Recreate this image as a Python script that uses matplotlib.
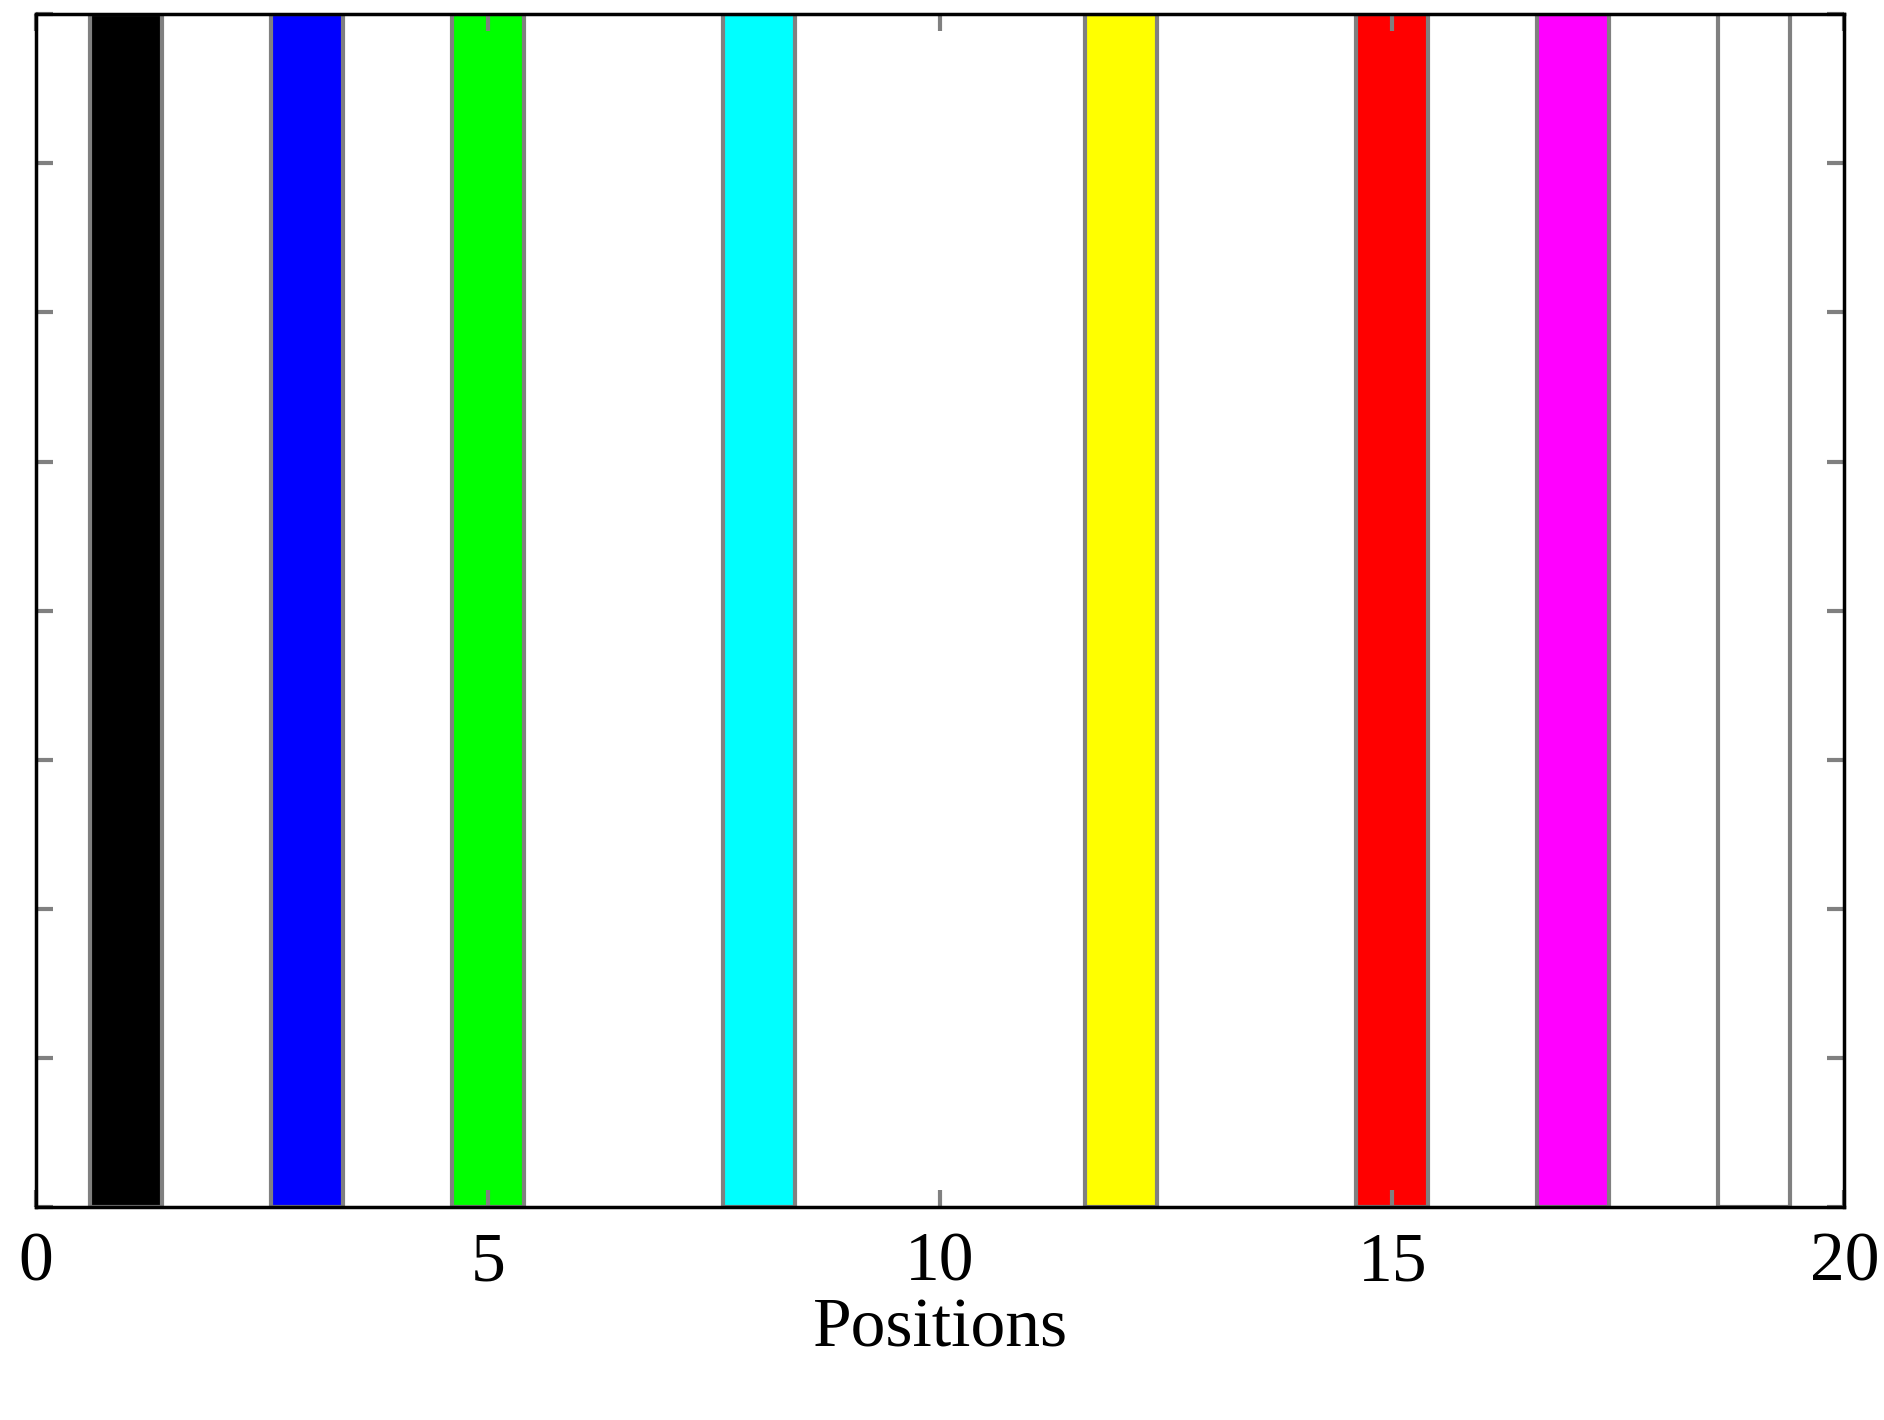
import matplotlib
matplotlib.use("Agg")
import matplotlib.pyplot as plt

positions = [1, 3, 5, 8, 12, 15, 17, 19]
heights = [8, 8, 8, 8, 8, 8, 8, 8]
colors = ["#000000", "#0000ff", "#00ff00", "#00ffff", "#ffff00", "#ff0000", "#ff00ff", "#ffffff"]

plt.rcParams["font.family"] = ["Liberation Serif", "DejaVu Serif"]

fig = plt.figure(figsize=(18.84, 14.2), dpi=100)
ax = fig.add_axes([0.019, 0.15, 0.96, 0.84])
ax.bar(positions, heights, width=0.8, color=colors, edgecolor="#808080", linewidth=3)
ax.set_xlim(0, 20)
ax.set_ylim(0, 8)
ax.set_xticks([0, 5, 10, 15, 20])
ax.set_yticks(range(9))
ax.set_yticklabels([])
ax.tick_params(direction="in", top=True, right=True, length=12, width=3,
               color="#808080", labelsize=50, pad=18)
for s in ax.spines.values():
    s.set_linewidth(2.5)
ax.set_xlabel("Positions", fontsize=50, labelpad=2)
fig.savefig("out.png", dpi=100)
